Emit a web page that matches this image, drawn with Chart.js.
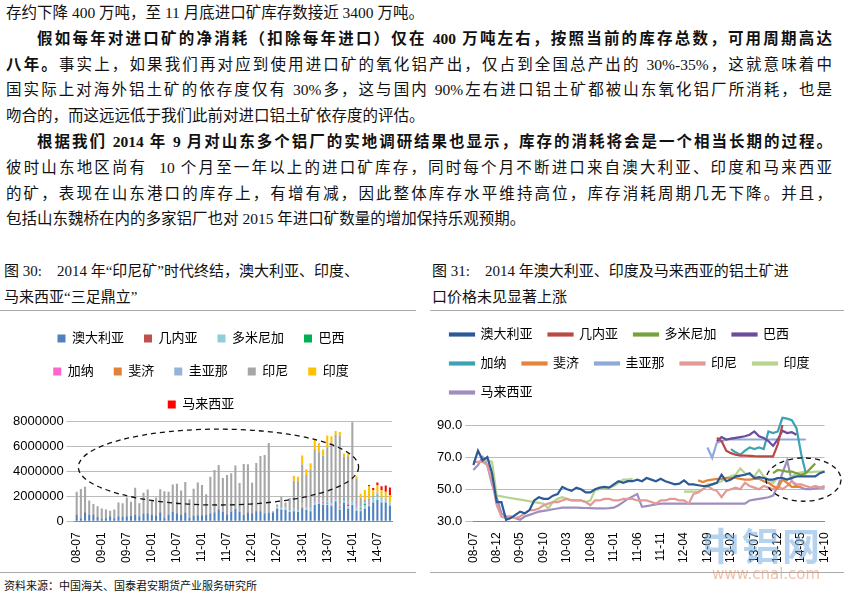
<!DOCTYPE html>
<html>
<head>
<meta charset="utf-8">
<script src="https://cdn.jsdelivr.net/npm/chart.js@4"></script>
<style>
body { margin:0; width:844px; height:600px; background:#fff; position:relative; overflow:hidden;
  font-family:"Liberation Serif","Noto Sans CJK SC",serif; color:#111; }
#txt { position:absolute; left:6px; top:0; width:826px; font-size:15.5px; line-height:25.8px; }
#txt div { text-align:justify; text-align-last:justify; white-space:nowrap; }
#txt div.end { text-align-last:left; }
.ind { padding-left:31px; }
.cap { position:absolute; top:258px; font-size:15px; line-height:26px; }
.rule { position:absolute; height:1px; background:#aaa; }
.box { position:absolute; top:312px; width:412px; height:258px; }
#src { position:absolute; left:4px; top:577px; font-size:11px; }
#wm { position:absolute; left:702px; top:516px; font-size:38px; font-weight:bold; color:rgba(120,175,225,0.55); letter-spacing:2px; font-family:"Noto Sans CJK SC"; }
#wm2 { position:absolute; left:712px; top:565px; font-size:15px; color:rgba(230,150,110,0.6); font-family:"DejaVu Sans"; }
</style>
</head>
<body>
<div id="txt">
<div class="end">存约下降 400 万吨，至 11 月底进口矿库存数接近 3400 万吨。</div>
<div class="ind"><b>假如每年对进口矿的净消耗（扣除每年进口）仅在 400 万吨左右，按照当前的库存总数，可用周期高达</b></div>
<div><b>八年。</b>事实上，如果我们再对应到使用进口矿的氧化铝产出，仅占到全国总产出的 30%-35%，这就意味着中</div>
<div>国实际上对海外铝土矿的依存度仅有 30%多，这与国内 90%左右进口铝土矿都被山东氧化铝厂所消耗，也是</div>
<div class="end">吻合的，而这远远低于我们此前对进口铝土矿依存度的评估。</div>
<div class="ind"><b>根据我们 2014 年 9 月对山东多个铝厂的实地调研结果也显示，库存的消耗将会是一个相当长期的过程。</b></div>
<div>彼时山东地区尚有&nbsp; 10 个月至一年以上的进口矿库存，同时每个月不断进口来自澳大利亚、印度和马来西亚</div>
<div>的矿，表现在山东港口的库存上，有增有减，因此整体库存水平维持高位，库存消耗周期几无下降。并且，</div>
<div class="end">包括山东魏桥在内的多家铝厂也对 2015 年进口矿数量的增加保持乐观预期。</div>
</div>
<div class="cap" style="left:4px;width:412px">图 30:&nbsp;&nbsp;&nbsp; 2014 年“印尼矿”时代终结，澳大利亚、印度、<br>马来西亚“三足鼎立”</div>
<div class="cap" style="left:432px;width:410px">图 31:&nbsp;&nbsp;&nbsp; 2014 年澳大利亚、印度及马来西亚的铝土矿进<br>口价格未见显著上涨</div>
<div class="rule" style="left:0;top:310px;width:416px"></div>
<div class="rule" style="left:430px;top:310px;width:414px"></div>
<div class="rule" style="left:0;top:572px;width:416px"></div>
<div class="rule" style="left:430px;top:572px;width:414px"></div>
<div class="box" style="left:2px"><canvas id="c1"></canvas></div>
<div class="box" style="left:430px"><canvas id="c2"></canvas></div>
<div id="wm">中铝网</div>
<div id="wm2">www.cnal.com</div>
<div id="src">资料来源：中国海关、国泰君安期货产业服务研究所</div>
<script>
// months 08-07 .. 14-10
var months = [];
for (var y = 8; y <= 14; y++) {
  for (var m = 1; m <= 12; m++) {
    if ((y == 8 && m < 7) || (y == 14 && m > 10)) continue;
    months.push((y < 10 ? "0" : "") + y + "-" + (m < 10 ? "0" : "") + m);
  }
}
// place values starting at a month index, rest null
function at(start, vals) {
  var a = [];
  for (var i = 0; i < months.length; i++) a.push(i >= start && i - start < vals.length ? vals[i - start] : null);
  return a;
}

// ---- figure 30: import volume (million tons, scaled to tons below) ----
var imAus = [.5,.25,.7,.55,.5,.35, .2,.25,.4,.25,.4,.35,.4,.45,.5,.4,.6,.65,
  .5,.45,.7,.3,.55,.75,.65,.5,.7,.3,.45,.45, .45,.5,.65,.7,.95,.75,.55,.75,1.0,.75,.5,.7,
  .65,.75,.8,.6,.7,.7,1.0,.95,.9,.75,.8,.75, 1.0,.9,.8,1.3,1.4,1.3,1.3,1.25,1.6,.95,1.5,1.0,
  1.3,.85,.8,1.0,1.2,1.5,1.7,1.5,1.5,1.25];
var imGuinea = at(0, [.05,.02,.06,0,.04,0,.03,0,0,0,0,0,0,0,.02,0,.03,.04,0,.04,.05,0,0,.04,.04,0,.03,0,.04,.05,.05,0,0,.05,.04,0,.05,.04,0,0,.03,.05,.03,.05,.05,.04,0,0,0,0,0,0,0,0,.1,0,0,0,0,0,0,0,0,0,0,0,0,0,.05,0,0,0,0,0,0,0]);
var imDomin = at(48, [.1,.1,.1,.1,.1,.1,.2,.1,.1,.1,.15,.1,.1,.1,.15,.1,.15,.2,.1,.25,.1,.3,.2,.25,.3,.25,.2,.15]);
var imBrazil = at(56, [0,0,.05,.05,.1,0,.05,.08,.1,.1,0,.05,.1,.1,.05,.05,.05,.05,0,0]);
var imGhana = at(57, [.05,.05,.08,0,.05,.05,.05,0,.08,0,.05,.05,0,.05,0,.05,0,0,0]);
var imFiji = at(52, [.04,0,.04,0,.04,0,.05,0,0,.04,0,.04,0,0,.05,0,0,0,.04,0,0,0,0,0]);
var imGuyana = at(48, [.1,.1,.1,.05,.1,.05,.1,.1,.1,.1,.1,.1,.1,.1,.1,.1,.1,.1,.15,.1,.1,.1,.1,.1,.1,.1,.1,.1]);
var imIndo = [1.8,2.3,2.0,1.1,.85,.85, .8,.7,.45,.7,1.1,1.1,1.5,1.1,2.15,1.05,1.65,1.85,
  1.15,1.4,1.8,2.1,1.8,2.15,2.3,1.95,2.4,1.45,2.1,2.6, 2.4,1.65,2.9,3.35,3.5,2.7,3.1,3.05,3.45,2.3,4.05,3.8,
  2.4,3.85,4.35,4.65,5.55,.1,.15,.8,.4,.95,2.2,2.3, 3.1,2.6,3.1,4.2,3.7,3.6,4.3,4.75,4.95,5.5,3.3,3.7,
  6.3,2.1,.7,.2,.15,.1,.1,0,0,0];
var imIndia = at(52, [.4,.35,.7,.45,.5,.8,.75,.5,.95,.5,.3,.3,.25,.2,.1,.2,.3,.8,1.0,.5,.6,.6,.55,.6]);
var imMalay = at(70, [.1,.15,.2,.3,.5,.6]);

var barNames = ["澳大利亚","几内亚","多米尼加","巴西","加纳","斐济","圭亚那","印尼","印度","马来西亚"];
var barColors = ["#4f81bd","#c0504d","#92cddc","#00b050","#ff66cc","#e0823c","#95b3d7","#a6a6a6","#ffc000","#ff0000"];
var barData = [imAus,imGuinea,imDomin,imBrazil,imGhana,imFiji,imGuyana,imIndo,imIndia,imMalay];
var volTicks = [0,1000000,2000000,3000000,4000000,5000000,6000000,7000000,8000000];

// ---- figure 31: import price (USD/t) ----
var pAus = [65,74,68,70,60,42,42,31,32,34,36,35,37,43,45,44,44,46,47,51.5,50,49,51,50,48,48,50,51,51.5,51,
  53,55,54,55,55,56,55,57,56,55,56.5,55,54,53,53.5,55.5,53,53,52.5,52,52,53,54,59,55,56,58,58.5,59,60,
  57,57.5,57,56,56,57,57,56,57,58,58,58,58,58,60,61];
var pGuinea = at(52, [82,80,74,72.5,71.5,71,71,70.8,70.6,70.5,70.5,70.5,70.5,78,90]);
var pDomin = at(64, [60,62,61.5,61,61,60,59,60,63,66,null]);
var pBrazil = at(52, [80,82.5,81,81.5,82,82.5,83,84,86,83,82,80,77,81,86.5,85,85.5,84]);
var pGhana = at(55, [75,73,71.5,74,76,75,76,75,86,85,86,94.5,94,93,88,72,60]);
var pFiji = at(48, [55.5,54.5,55.5,56,56.5,56.5,57,57,57,56.5,56,56,56.5,56.5,55,54,52,50.5,56,54,51.5,51.5,51.5]);
var pGuyana = at(50, [76,69.5,79,80,81,81,81,81,81,81,81,81,81,81,81,81,81,81,81,81,81,81]);
var pIndo = [67,67,67,65,55,40,33,32,33,32,33,35,37,37,38,40,41,42,42,43,44,43,43,43,42,40,43,43,44,44,
  43,43,44,44,44,43,43,43,42,41,43,43,44,44,43,43,41,47,48,50,52,50,49,45,49,50,51,50,54,52,
  51,50,52,51,50,52,50,52,55,53,53,52,51,52,51,52];
var pIndia = at(0, [null,null,68,68,67,46,45.5,45,44.5,44,43.5,43,42.5,42,41.5,41,38,42,44,45,44,43,43,43,42,43,
  49.5,50,50.5,51,52,54,56,56,56.5,null,null,null,null,null,null,null,null,null,null,
  48.5,48.5,48.5,48.5,50,53,53,54,55,57,58,59,63,60,59,58,62,58,56,54,57,56,56,58,60,60.5,61,60.5,61,61,61]);
var pMalay = [62,65,70,65,53,45,35,33,33,32,31,33,34,35,36,36.5,37,37.5,38,38.5,38.5,38.5,38.5,38.4,38.3,38.2,38.1,38,38,38.2,
  38.5,40,42,44,45.5,47,39,39.5,40,40.5,41,41,41,41,41,41,41,41,41,41,41,41,41,41,41,41,41,41,41,43,
  43.5,44,44.5,45,46,52,60,68,55,52,51,50,50,50.5,51,51];

var lineNames = ["澳大利亚","几内亚","多米尼加","巴西","加纳","斐济","圭亚那","印尼","印度","马来西亚"];
var lineColors = ["#2c5a96","#b94a43","#77a33a","#6b4c9a","#3ba3b5","#e8843a","#8fa9d8","#e39a96","#b6d48c","#9f8fc0"];
var lineData = [pAus,pGuinea,pDomin,pBrazil,pGhana,pFiji,pGuyana,pIndo,pIndia,pMalay];

Chart.defaults.font.family = "'Liberation Sans','Noto Sans CJK SC',sans-serif";
Chart.defaults.color = "#000";
Chart.defaults.animation = false;

// dashed ellipse drawn from scale values
function ellipse(x0, x1, y0, y1) {
  return {
    id: "ell",
    afterDatasetsDraw: function(ch) {
      var xs = ch.scales.x, ys = ch.scales.y, c = ch.ctx;
      var l = xs.getPixelForValue(x0), r = xs.getPixelForValue(x1);
      var t = ys.getPixelForValue(y1), b = ys.getPixelForValue(y0);
      c.save();
      c.setLineDash([5, 4]);
      c.lineWidth = 1.3;
      c.strokeStyle = "#111";
      c.beginPath();
      c.ellipse((l + r) / 2, (t + b) / 2, (r - l) / 2, (b - t) / 2, 0, 0, Math.PI * 2);
      c.stroke();
      c.restore();
    }
  };
}

new Chart(document.getElementById("c1"), {
  type: "bar",
  data: {
    labels: months,
    datasets: barData.map(function(d, i) {
      return { label: barNames[i], backgroundColor: barColors[i], categoryPercentage: 0.9, barPercentage: 0.55,
        data: d.map(function(v) { return v == null ? null : Math.round(v * 1000000); }) };
    })
  },
  options: {
    responsive: true, maintainAspectRatio: false,
    layout: { padding: { left: 8, right: 22, top: 0, bottom: 4 } },
    plugins: {
      legend: { labels: { boxWidth: 8, boxHeight: 8, font: { size: 13 }, padding: 20 } },
      tooltip: { enabled: false }
    },
    scales: {
      x: { stacked: true, grid: { display: false }, border: { color: "#888" },
        ticks: { autoSkip: false, maxRotation: 90, minRotation: 90, font: { size: 12 },
          callback: function(v, i) { return i % 6 == 0 ? months[i] : ""; } } },
      y: { stacked: true, min: 0, max: 8000000, grid: { color: "#bbb" }, border: { display: false },
        afterBuildTicks: function(ax) { ax.ticks = volTicks.map(function(v) { return { value: v }; }); },
        ticks: { font: { size: 13 }, callback: function(v) { return String(v); } } }
    }
  },
  plugins: [ellipse(0.4, 67.5, 1300000, 7350000)]
});

new Chart(document.getElementById("c2"), {
  type: "line",
  data: {
    labels: months,
    datasets: lineData.map(function(d, i) {
      return { label: lineNames[i], data: d, borderColor: lineColors[i], backgroundColor: lineColors[i],
        borderWidth: 2.2, pointRadius: 0, spanGaps: false, tension: 0 };
    })
  },
  options: {
    responsive: true, maintainAspectRatio: false,
    layout: { padding: { left: 4, right: 14, top: 0, bottom: 4 } },
    plugins: {
      legend: { align: "start", labels: { boxWidth: 24, boxHeight: 2, font: { size: 13 }, padding: 16 } },
      tooltip: { enabled: false }
    },
    scales: {
      x: { grid: { display: false }, border: { color: "#888" },
        ticks: { autoSkip: false, maxRotation: 90, minRotation: 90, font: { size: 12 },
          callback: function(v, i) { return i % 5 == 0 ? months[i] : ""; } } },
      y: { min: 30, max: 100, grid: { color: "#bbb" }, border: { display: false },
        ticks: { stepSize: 10, font: { size: 13 }, callback: function(v) { return v.toFixed(1); } } }
    }
  },
  plugins: [ellipse(62.5, 78.5, 42.5, 69.5)]
});
</script>
</body>
</html>
